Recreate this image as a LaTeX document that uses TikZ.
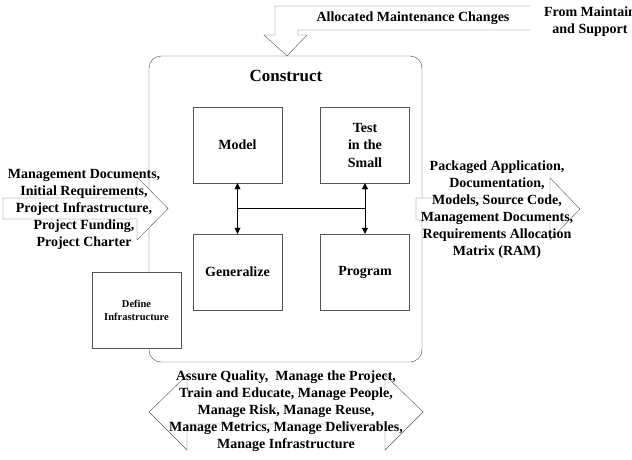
\documentclass[tikz,border=0pt]{standalone}
\usepackage{fontspec}
\setmainfont{Liberation Serif}
\usetikzlibrary{arrows.meta, positioning, calc}
\definecolor{edge}{HTML}{555555}

\begin{document}
\begin{tikzpicture}[
  x=1pt, y=-1pt,
  task/.style={rectangle, draw=edge, fill=white, align=center, font=\bfseries\fontsize{14}{17.5}\selectfont, minimum width=89pt, minimum height=76pt, inner sep=0pt},
  small/.style={task, font=\bfseries\fontsize{10.5}{13}\selectfont},
  flow/.style={draw=edge, fill=white, line join=miter},
  label/.style={align=center, font=\bfseries\fontsize{14}{17}\selectfont, inner sep=0pt},
  arrow/.style={{Triangle[length=6pt,width=6pt]}-{Triangle[length=6pt,width=6pt]}, draw=black}
]
  \useasboundingbox (0,0) rectangle (632,459);

  % phase box
  \draw[draw=black!75, rounded corners=12pt] (149,56) rectangle (422,362);
  \node[font=\bfseries\fontsize{17}{20}\selectfont] (construct) at (286,76) {Construct};

  \node[task] (model) at (237.5,145) {Model};
  \node[task] (test) at (365,145) {Test\\in the\\Small};
  \node[task] (gen) at (237.5,272) {Generalize};
  \node[task] (prog) at (365,272) {Program};
  \node[small] (infra) at (136.5,310) {Define\\Infrastructure};

  \coordinate (jl) at ($(model.south)!0.5!(gen.north)$);
  \coordinate (jr) at ($(test.south)!0.5!(prog.north)$);
  \draw[arrow] (model) -- (gen);
  \draw[arrow] (test) -- (prog);
  \draw (jl) -- (jr);

  % inputs and outputs
  \draw[flow] (3,198) -- (137,198) -- (137,177) -- (168,208.5) -- (137,240) -- (137,219) -- (3,219) -- cycle;
  \draw[flow] (416,198) -- (550,198) -- (550,178) -- (580,209) -- (550,240) -- (550,220) -- (416,220) -- cycle;
  \draw[flow] (149,412) -- (187,375) -- (187,393) -- (385,393) -- (385,375) -- (423,412)
    -- (385,450) -- (385,424) -- (187,424) -- (187,450) -- cycle;
  \fill[white] (530,6) -- (275,6) -- (275,35) -- (264,35) -- (287,56) -- (307,35) -- (298,35) -- (298,30) -- (530,30) -- cycle;
  \draw[edge] (530,6) -- (275,6) -- (275,35) -- (264,35) -- (287,56) -- (307,35) -- (298,35) -- (298,30) -- (530,30);

  \node[label] (inputs) at (84,209) {Management Documents,\\Initial Requirements,\\Project Infrastructure,\\Project Funding,\\Project Charter};
  \node[label] (outputs) at (497,210) {Packaged Application,\\Documentation,\\Models, Source Code,\\Management Documents,\\Requirements Allocation\\Matrix (RAM)};
  \node[label] (support) at (286,411.5) {Assure Quality,\ \ Manage the Project,\\Train and Educate, Manage People,\\Manage Risk, Manage Reuse,\\Manage Metrics, Manage Deliverables,\\Manage Infrastructure};
  \node[label] (changes) at (413,18) {Allocated Maintenance Changes};
  \node[label] (maint) at (590,22) {From Maintain\\and Support};
\end{tikzpicture}
\end{document}
